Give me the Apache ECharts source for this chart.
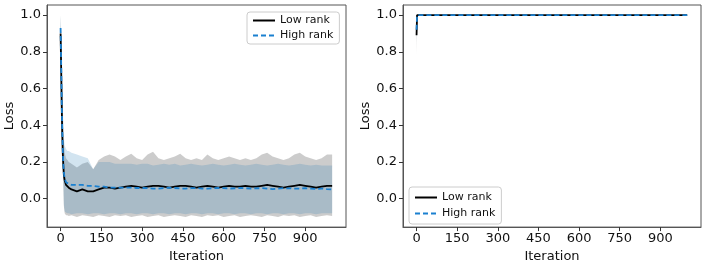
<!DOCTYPE html>
<html>
<head>
<meta charset="utf-8">
<script src="https://cdn.jsdelivr.net/npm/echarts@6/dist/echarts.min.js"></script>
<style>
html,body{margin:0;padding:0;background:#fff;}
#c{width:708px;height:268px;}
</style>
</head>
<body>
<div id="c"></div>
<script>
// ---------- data ----------
const seriesNames = ['Low rank', 'High rank'];
const xTicks = [0, 150, 300, 450, 600, 750, 900];
const yTicks = [0.0, 0.2, 0.4, 0.6, 0.8, 1.0];

// left panel
const iters = [0,2,4,6,8,10,12,15,20,25,30,40,60,80,100,120,140,160,180,200,220,240,260,280,300,320,340,360,380,400,420,440,460,480,500,520,540,560,580,600,620,640,660,680,700,720,740,760,780,800,820,840,860,880,900,920,940,960,980,999];
const lowMean = [0.90,0.72,0.52,0.36,0.25,0.18,0.13,0.10,0.075,0.065,0.06,0.05,0.04,0.05,0.04,0.04,0.05,0.06,0.06,0.055,0.06,0.065,0.07,0.065,0.06,0.065,0.07,0.07,0.065,0.06,0.065,0.07,0.07,0.065,0.06,0.065,0.07,0.065,0.06,0.065,0.07,0.065,0.065,0.07,0.065,0.065,0.07,0.075,0.07,0.065,0.06,0.065,0.07,0.075,0.07,0.065,0.06,0.065,0.07,0.07];
const highMean = [0.93,0.75,0.55,0.38,0.27,0.19,0.14,0.11,0.09,0.085,0.08,0.075,0.075,0.075,0.07,0.07,0.065,0.065,0.06,0.06,0.06,0.06,0.06,0.058,0.058,0.057,0.055,0.055,0.057,0.06,0.058,0.055,0.055,0.057,0.058,0.055,0.055,0.057,0.058,0.057,0.055,0.056,0.058,0.057,0.055,0.056,0.057,0.055,0.052,0.055,0.057,0.056,0.055,0.055,0.057,0.055,0.053,0.055,0.052,0.05];
const lowUpper = [1.0,0.9,0.75,0.6,0.48,0.38,0.3,0.25,0.22,0.21,0.2,0.19,0.17,0.19,0.2,0.16,0.21,0.23,0.24,0.23,0.21,0.23,0.245,0.22,0.21,0.24,0.255,0.22,0.21,0.22,0.23,0.245,0.22,0.21,0.22,0.21,0.24,0.22,0.21,0.22,0.23,0.22,0.21,0.22,0.21,0.22,0.24,0.25,0.23,0.22,0.21,0.22,0.24,0.25,0.23,0.22,0.21,0.22,0.24,0.24];
const lowLower = [0.80,0.7,0.6,0.45,0.3,0.08,-0.04,-0.08,-0.09,-0.09,-0.095,-0.09,-0.1,-0.09,-0.095,-0.1,-0.09,-0.095,-0.1,-0.09,-0.095,-0.09,-0.1,-0.095,-0.09,-0.1,-0.095,-0.09,-0.1,-0.095,-0.09,-0.095,-0.1,-0.09,-0.095,-0.1,-0.09,-0.095,-0.09,-0.1,-0.095,-0.09,-0.1,-0.095,-0.09,-0.095,-0.1,-0.09,-0.095,-0.1,-0.09,-0.095,-0.09,-0.1,-0.095,-0.09,-0.1,-0.095,-0.09,-0.095];
const highUpper = [1.0,0.92,0.78,0.62,0.5,0.4,0.33,0.29,0.27,0.26,0.26,0.25,0.24,0.23,0.22,0.16,0.2,0.2,0.2,0.19,0.19,0.19,0.19,0.185,0.19,0.19,0.18,0.185,0.19,0.185,0.19,0.18,0.185,0.19,0.185,0.18,0.185,0.19,0.185,0.18,0.185,0.19,0.185,0.18,0.185,0.19,0.185,0.18,0.185,0.19,0.185,0.18,0.185,0.19,0.185,0.18,0.185,0.18,0.18,0.18];
const highLower = [0.85,0.72,0.62,0.47,0.32,0.1,-0.03,-0.07,-0.075,-0.08,-0.08,-0.085,-0.08,-0.08,-0.085,-0.08,-0.08,-0.085,-0.08,-0.08,-0.085,-0.08,-0.08,-0.085,-0.08,-0.08,-0.085,-0.08,-0.08,-0.085,-0.08,-0.08,-0.085,-0.08,-0.08,-0.085,-0.08,-0.08,-0.085,-0.08,-0.08,-0.085,-0.08,-0.08,-0.085,-0.08,-0.08,-0.085,-0.08,-0.08,-0.085,-0.08,-0.08,-0.085,-0.08,-0.08,-0.085,-0.08,-0.08,-0.08];

// right panel
const iters2 = [0, 2, 999];
const lowMean2 = [0.89, 1.0, 1.0];
const highMean2 = [0.92, 1.0, 1.0];
const lowUpper2 = [1.0, 1.0, 1.0];
const lowLower2 = [0.78, 1.0, 1.0];
const highUpper2 = [1.0, 1.0, 1.0];
const highLower2 = [0.85, 1.0, 1.0];

// ---------- styles ----------
const FONT = 'DejaVu Sans';
const BLACK = '#000000';
const BLUE = '#1a80d0';
const GRAY_BAND = 'rgba(0,0,0,0.2)';
const BLUE_BAND = 'rgba(31,119,180,0.2)';
const SPINE = '#555555';

const pair = (xs, ys) => xs.map((x, i) => [x, ys[i]]);

// band = filled polygon between lo and hi, positioned through the axis scales (api.coord)
function band(xs, lo, hi, color, idx) {
  const rows = xs.map((x, i) => [x, lo[i], hi[i]]);
  return {
    type: 'custom', xAxisIndex: idx, yAxisIndex: idx, silent: true, animation: false,
    data: rows,
    encode: { x: 0, y: [1, 2] },
    renderItem: function (params, api) {
      if (params.dataIndex !== 0) return null;
      const top = rows.map(r => api.coord([r[0], r[2]]));
      const bot = rows.map(r => api.coord([r[0], r[1]])).reverse();
      return {
        type: 'polygon',
        shape: { points: top.concat(bot) },
        style: { fill: color, stroke: null },
        silent: true
      };
    }
  };
}
function line(name, xs, ys, color, dashed, idx) {
  return { type: 'line', name: name, xAxisIndex: idx, yAxisIndex: idx,
    data: pair(xs, ys), symbol: 'none', showSymbol: false,
    lineStyle: { color: color, width: 1.8, type: dashed ? [5, 3] : 'solid' },
    itemStyle: { color: color },
    emphasis: { disabled: true }, animation: false };
}
function xAxis(idx) {
  return { type: 'value', gridIndex: idx, min: -50, max: 1050,
    name: 'Iteration', nameLocation: 'middle', nameGap: 19,
    nameTextStyle: { fontFamily: FONT, fontSize: 13, color: '#111' },
    splitLine: { show: false },
    axisLine: { show: true, onZero: false, lineStyle: { color: SPINE, width: 1 } },
    axisTick: { show: true, length: 4, customValues: xTicks, lineStyle: { color: '#333' } },
    axisLabel: { customValues: xTicks, margin: 5, fontFamily: FONT, fontSize: 13, color: '#111' } };
}
function yAxis(idx) {
  return { type: 'value', gridIndex: idx, min: -0.155, max: 1.055,
    name: 'Loss', nameLocation: 'middle', nameGap: 29,
    nameTextStyle: { fontFamily: FONT, fontSize: 13, color: '#111' },
    splitLine: { show: false },
    axisLine: { show: true, onZero: false, lineStyle: { color: SPINE, width: 1 } },
    axisTick: { show: true, length: 4, customValues: yTicks, lineStyle: { color: '#333' } },
    axisLabel: { customValues: yTicks, margin: 6, fontFamily: FONT, fontSize: 13, color: '#111',
      formatter: v => v.toFixed(1) } };
}
function legend(pos, pad, gap) {
  return Object.assign({
    data: seriesNames, orient: 'vertical', itemWidth: 22, itemHeight: 10, itemGap: gap,
    padding: pad, backgroundColor: 'rgba(255,255,255,0.8)', borderColor: '#cccccc',
    borderWidth: 1, borderRadius: 3, selectedMode: false,
    itemStyle: { opacity: 0 },
    textStyle: { fontFamily: FONT, fontSize: 11, color: '#111' }
  }, pos);
}

const chart = echarts.init(document.getElementById('c'), null, { renderer: 'canvas' });
chart.setOption({
  animation: false,
  backgroundColor: '#ffffff',
  grid: [
    { left: 47, top: 5, width: 299, height: 223, show: true, borderColor: SPINE, borderWidth: 1, backgroundColor: 'transparent' },
    { left: 403, top: 5, width: 298, height: 223, show: true, borderColor: SPINE, borderWidth: 1, backgroundColor: 'transparent' }
  ],
  xAxis: [xAxis(0), xAxis(1)],
  yAxis: [yAxis(0), yAxis(1)],
  legend: [
    legend({ left: 247, top: 12 }, [3, 6, 3, 5], 4),
    legend({ left: 409, top: 187 }, [5, 6, 5, 5], 5)
  ],
  series: [
    band(iters, lowLower, lowUpper, GRAY_BAND, 0),
    band(iters, highLower, highUpper, BLUE_BAND, 0),
    line(seriesNames[0], iters, lowMean, BLACK, false, 0),
    line(seriesNames[1], iters, highMean, BLUE, true, 0),
    band(iters2, lowLower2, lowUpper2, GRAY_BAND, 1),
    band(iters2, highLower2, highUpper2, BLUE_BAND, 1),
    line(seriesNames[0], iters2, lowMean2, BLACK, false, 1),
    line(seriesNames[1], iters2, highMean2, BLUE, true, 1)
  ]
});
</script>
</body>
</html>
